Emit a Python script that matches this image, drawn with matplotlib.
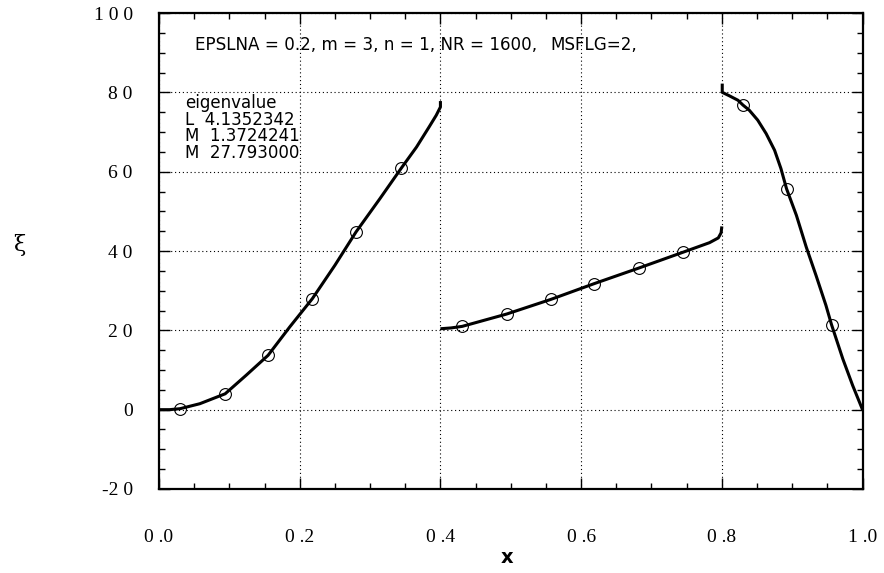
import numpy as np
import matplotlib.pyplot as plt
from matplotlib.ticker import MultipleLocator, FixedLocator


# Tres trechos da autofuncao xi(x), separados pelas descontinuidades em x = 0.4 e x = 0.8
x_trecho1 = [0.0, 0.015, 0.030, 0.058, 0.094, 0.124, 0.155, 0.186, 0.218, 0.250,
             0.280, 0.314, 0.344, 0.366, 0.384, 0.394, 0.400, 0.400]
y_trecho1 = [0.0, 0.0, 0.25, 1.5, 4.0, 8.7, 13.7, 20.9, 28.0, 36.4,
             44.8, 53.2, 60.8, 66.2, 71.3, 74.2, 76.3, 77.8]

x_trecho2 = [0.4, 0.415, 0.431, 0.494, 0.557, 0.619, 0.682, 0.745, 0.7825, 0.795, 0.799, 0.8]
y_trecho2 = [20.4, 20.6, 21.0, 24.1, 27.8, 31.8, 35.7, 39.7, 42.1, 43.3, 44.6, 46.2]

x_trecho3 = [0.8006, 0.8006, 0.811, 0.823, 0.830, 0.839, 0.851, 0.863, 0.875, 0.884,
             0.892, 0.906, 0.920, 0.934, 0.948, 0.956, 0.972, 0.986, 1.0]
y_trecho3 = [82.2, 80.0, 79.1, 78.0, 76.8, 75.5, 73.0, 69.6, 65.4, 60.8,
             55.7, 49.0, 41.0, 33.8, 26.3, 21.4, 12.8, 6.1, 0.0]

# Pontos marcados com circulos
x_circulos = [0.030, 0.094, 0.155, 0.218, 0.280, 0.344,
              0.431, 0.494, 0.557, 0.619, 0.682, 0.745,
              0.830, 0.892, 0.956]
y_circulos = [0.25, 4.0, 13.7, 28.0, 44.8, 60.8,
              21.0, 24.1, 27.8, 31.8, 35.7, 39.7,
              76.8, 55.7, 21.4]

# Rotulos dos eixos no estilo espacado
x_ticks = [0.0, 0.2, 0.4, 0.6, 0.8, 1.0]
x_ticklabels = ["0 .0", "0 .2", "0 .4", "0 .6", "0 .8", "1 .0"]
y_ticks = [-20, 0, 20, 40, 60, 80, 100]
y_ticklabels = ["-2 0", "0", "2 0", "4 0", "6 0", "8 0", "1 0 0"]

texto_param = "EPSLNA = 0.2, m = 3, n = 1, NR = 1600,"
texto_flag = "MSFLG=2,"
autovalores = ["eigenvalue", "L  4.1352342", "M  1.3724241", "M  27.793000"]


fig = plt.figure(figsize=(8.84, 5.73), dpi=100)
ax = fig.add_axes([0.1799, 0.1466, 0.7958, 0.8307])

for xs, ys in [(x_trecho1, y_trecho1), (x_trecho2, y_trecho2), (x_trecho3, y_trecho3)]:
    ax.plot(xs, ys, color="black", linewidth=2.2, solid_capstyle="butt",
            solid_joinstyle="round", zorder=3)

ax.plot(x_circulos, y_circulos, linestyle="none", marker="o", markersize=8.5,
        markerfacecolor="none", markeredgecolor="black", markeredgewidth=0.8, zorder=4)

ax.set_xlim(0, 1)
ax.set_ylim(-20, 100)

ax.xaxis.set_major_locator(FixedLocator(x_ticks))
ax.yaxis.set_major_locator(FixedLocator(y_ticks))
ax.xaxis.set_minor_locator(MultipleLocator(0.05))
ax.yaxis.set_minor_locator(MultipleLocator(5))
ax.set_xticklabels(x_ticklabels, fontfamily="Liberation Serif", fontsize=14)
ax.set_yticklabels(y_ticklabels, fontfamily="Liberation Serif", fontsize=14)

ax.tick_params(which="both", direction="in", top=True, right=True, width=1.0)
ax.tick_params(which="major", length=8)
ax.tick_params(which="minor", length=4.5)
ax.tick_params(axis="x", which="major", pad=29)
ax.tick_params(axis="y", which="major", pad=19)

for lado in ax.spines.values():
    lado.set_linewidth(1.6)

ax.grid(True, which="major", color="black", linestyle=(0, (1, 2.5)), linewidth=0.8)

ax.set_xlabel("x", fontfamily="DejaVu Sans", fontweight="bold", fontsize=14)
ax.xaxis.set_label_coords(0.4947, -0.1245)
ax.set_ylabel("ξ", fontfamily="DejaVu Serif", fontsize=16, rotation=0, va="center")
ax.yaxis.set_label_coords(-0.198, 0.513)

ax.text(0.051, 0.932, texto_param, transform=ax.transAxes, fontfamily="DejaVu Sans",
        fontsize=12.1, va="center", ha="left")
ax.text(0.557, 0.932, texto_flag, transform=ax.transAxes, fontfamily="DejaVu Sans",
        fontsize=12.1, va="center", ha="left")

for i, linha in enumerate(autovalores):
    ax.text(0.037, 0.81 - i * 0.0345, linha, transform=ax.transAxes,
            fontfamily="DejaVu Sans", fontsize=12, va="center", ha="left")

fig.savefig("out.png", dpi=100)
